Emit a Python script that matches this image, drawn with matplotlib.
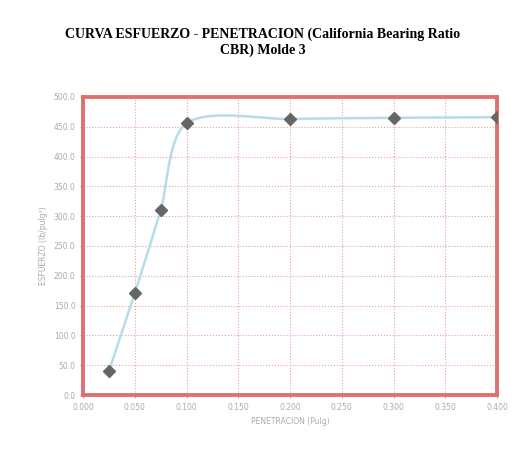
import matplotlib.pyplot as plt
import numpy as np

# Datos del ensayo CBR (molde 3)
penetracion = [0.025, 0.050, 0.075, 0.100, 0.200, 0.300, 0.400]
esfuerzo = [40.0, 171.0, 310.0, 456.0, 463.0, 465.0, 466.0]

x_ticks = [0.000, 0.050, 0.100, 0.150, 0.200, 0.250, 0.300, 0.350, 0.400]
y_ticks = [0, 50, 100, 150, 200, 250, 300, 350, 400, 450, 500]


def suavizar(x, y, sx, sy, n=40, k=0.25):
    # linea suavizada (Bezier), tangentes segun los puntos vecinos y
    # magnitud proporcional a la longitud de cada tramo, en coordenadas de pantalla
    P = np.column_stack([np.asarray(x, float) * sx, np.asarray(y, float) * sy])
    Q = np.vstack([P[0], P, P[-1]])
    d = Q[2:] - Q[:-2]
    d = d / np.linalg.norm(d, axis=1)[:, None]
    t = np.linspace(0, 1, n)[:, None]
    trozos = []
    for i in range(len(P) - 1):
        p0, p3 = P[i], P[i + 1]
        L = np.linalg.norm(p3 - p0) * k
        p1 = p0 + d[i] * L
        p2 = p3 - d[i + 1] * L
        trozos.append((1 - t) ** 3 * p0 + 3 * (1 - t) ** 2 * t * p1
                      + 3 * (1 - t) * t ** 2 * p2 + t ** 3 * p3)
    c = np.vstack(trozos)
    return c[:, 0] / sx, c[:, 1] / sy


fig = plt.figure(figsize=(5.26, 4.53), dpi=100)
ax = fig.add_axes([0.158, 0.128, 0.787, 0.658])

cx, cy = suavizar(penetracion, esfuerzo, 414 / 0.4, 298 / 500)
ax.plot(cx, cy, color='#b5dcea', linewidth=1.8, zorder=2)
ax.plot(penetracion, esfuerzo, linestyle='none', marker='D', markersize=6.5,
        color='#666666', zorder=3)

ax.set_xlim(0.0, 0.4)
ax.set_ylim(0, 500)
ax.set_xticks(x_ticks)
ax.set_xticklabels(['%.3f' % v for v in x_ticks])
ax.set_yticks(y_ticks)
ax.set_yticklabels(['%.1f' % v for v in y_ticks])
ax.tick_params(labelsize=5.5, colors='#aaaaaa', length=2)

ax.grid(True, color='#e8a0a0', linestyle=':', linewidth=0.8)
for s in ax.spines.values():
    s.set_color('#e07070')
    s.set_linewidth(2.8)

ax.set_xlabel('PENETRACION (Pulg)', fontsize=5.5, color='#aaaaaa')
ax.set_ylabel('ESFUERZO (lb/pulg²)', fontsize=5.5, color='#aaaaaa')

fig.suptitle('CURVA ESFUERZO - PENETRACION (California Bearing Ratio\nCBR) Molde 3',
             y=0.94, fontsize=10, fontweight='bold', family='Liberation Serif',
             linespacing=1.3)

plt.savefig('out.png', dpi=100)
plt.close(fig)
